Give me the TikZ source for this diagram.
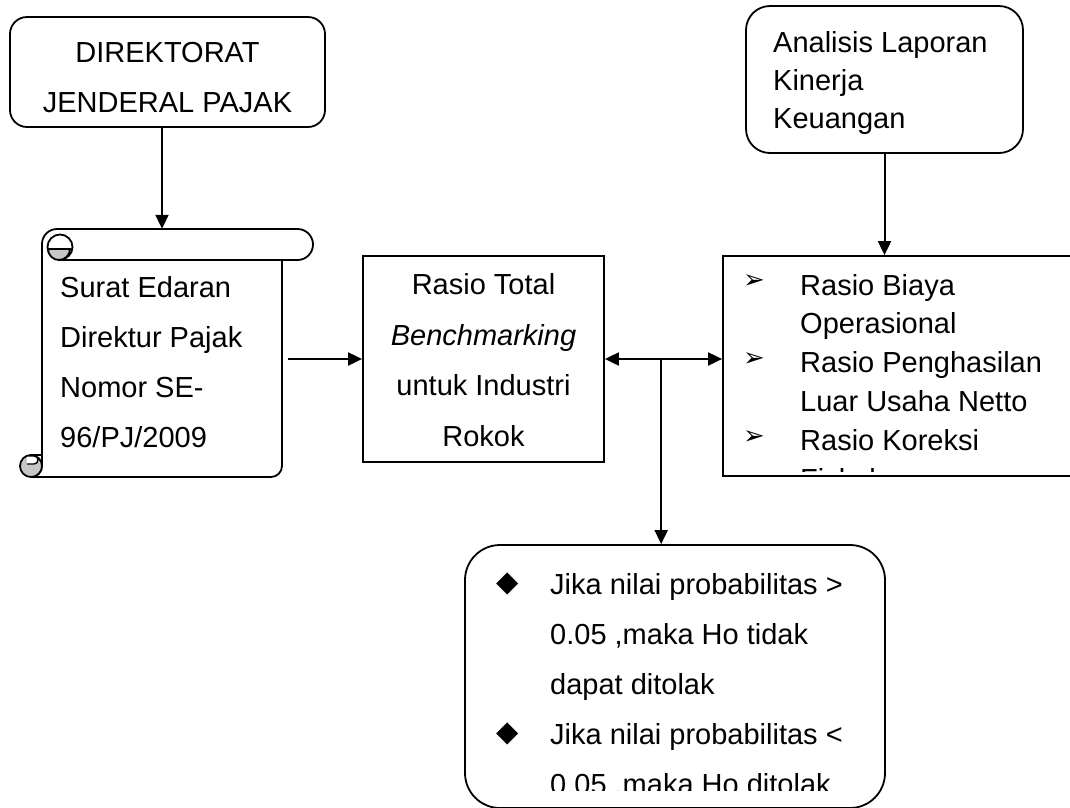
\documentclass[tikz,border=0pt]{standalone}
\usepackage{fontspec}
\setmainfont{Liberation Sans}
\newfontfamily\symfont{DejaVu Sans}
\usetikzlibrary{arrows.meta,calc,positioning}

\tikzset{
  box/.style={draw, line width=1.8pt, fill=white, inner sep=0pt},
  txt/.style={inner sep=0pt, anchor=base west, align=left},
  wide/.style={font=\fontsize{29}{50}\selectfont},
  tight/.style={font=\fontsize{29}{38.8}\selectfont},
  arr/.style={line width=2pt, -{Triangle[length=14pt,width=13pt]}},
  arrboth/.style={line width=2pt, {Triangle[length=14pt,width=13pt]}-{Triangle[length=14pt,width=13pt]}},
  curl/.style={line width=1.8pt, fill=black!22},
}

\begin{document}
\begin{tikzpicture}[x=1pt, y=-1pt]
  \path[use as bounding box] (0,0) rectangle (1070,807);
  \clip (0,0) rectangle (1070,807);

  % top left
  \node[box, rounded corners=17pt, minimum width=315pt, minimum height=110pt] (djp) at (167.5,72) {};
  \node[txt, wide, align=center, anchor=base] (djptext) at (167.5,112.5) {DIREKTORAT\\JENDERAL PAJAK};

  % scroll
  \node[minimum width=240pt, minimum height=248pt] (scroll) at (162,353) {};
  \filldraw[line width=1.8pt, fill=white] (42,244) arc[start angle=180, end angle=270, radius=15]
    -- (297.5,229) arc[start angle=-90, end angle=90, radius=15.5] -- (282,260)
    -- (282,466) arc[start angle=0, end angle=90, radius=11] -- (31,477)
    arc[start angle=90, end angle=0, radius=11] -- cycle;
  \draw[line width=1.8pt] (282,260) -- (60,260);
  \draw[line width=1.8pt, fill=white] (60,247) circle[radius=12.5];
  \filldraw[curl] (48,249) arc[start angle=180, end angle=0, radius=11] -- cycle;
  \filldraw[curl] (31,466) circle[radius=11];
  \draw[line width=1.8pt] (42,455) -- (31,455);
  \draw[line width=1.4pt, fill=white] (27,456) -- (34,456) arc[start angle=-90, end angle=90, radius=4] -- (27,464);
  \node[txt, wide] (scrolltext) at (60,447) {Surat Edaran\\Direktur Pajak\\Nomor SE-\\96/PJ/2009};

  % middle
  \node[box, minimum width=241pt, minimum height=206pt] (rasio) at (483.5,359) {};
  \node[txt, font=\fontsize{29}{50.5}\selectfont, align=center, anchor=base] (rasiotext) at (483.5,446)
    {Rasio Total\\\textit{Benchmarking}\\untuk Industri\\Rokok};

  % top right
  \node[box, rounded corners=24pt, minimum width=277pt, minimum height=147pt] (ana) at (884.5,79.5) {};
  \node[txt, font=\fontsize{29}{38}\selectfont] (anatext) at (773,128) {Analisis Laporan\\Kinerja\\Keuangan};

  % right
  \node[box, minimum width=357pt, minimum height=220pt] (rright) at (901.5,366) {};
  \begin{scope}
    \clip (723,256) rectangle (1080,471);
    \node[txt, tight] (rrtext) at (800,489) {Rasio Biaya\\Operasional\\Rasio Penghasilan\\Luar Usaha Netto\\Rasio Koreksi\\Fiskal};
  \end{scope}
  \foreach \y/\n in {295/1, 372.6/2, 450.2/3}
    \node[inner sep=0pt, font=\symfont\fontsize{26}{27}\selectfont] (tip\n) at (754,\y-13) {➢};

  % bottom
  \node[box, rounded corners=35pt, minimum width=420pt, minimum height=263pt] (hasil) at (675,676.5) {};
  \begin{scope}
    \clip (465,545) rectangle (885,790);
    \node[txt, wide] (hasiltext) at (550,794) {Jika nilai probabilitas >\\0.05 ,maka Ho tidak\\dapat ditolak\\Jika nilai probabilitas <\\0.05 ,maka Ho ditolak};
  \end{scope}
  \foreach \y/\n in {594/1, 744/2}
    \node[inner sep=0pt, font=\symfont\fontsize{29}{30}\selectfont] (dot\n) at (508,\y-10) {◆};

  % arrows
  \draw[arr] (djp.south -| scroll.north) -- (scroll.north);
  \draw[arr, shorten <=6pt] (scroll.east |- rasio.west) -- (rasio.west);
  \draw[arrboth] (rasio.east) -- (rasio.east -| rright.west);
  \coordinate (split) at ($(rasio.east)!0.48!(rasio.east -| rright.west)$);
  \draw[arr] (split) -- (split |- hasil.north);
  \draw[arr] (ana.south) -- (ana.south |- rright.north);
\end{tikzpicture}
\end{document}
